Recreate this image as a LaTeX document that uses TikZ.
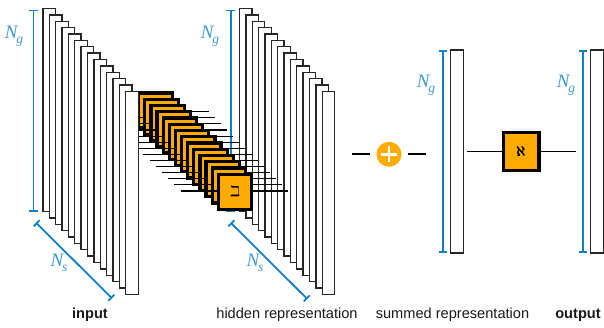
\documentclass[tikz,border=0pt]{standalone}
\usepackage{fontspec}
\usepackage{amsmath}
\usepackage{amssymb}
\usetikzlibrary{arrows.meta}
\setmainfont{Liberation Sans}
\newfontfamily\timesfam{Liberation Serif}
\definecolor{dimblue}{HTML}{0F80C4}
\definecolor{boxorange}{HTML}{FFAB00}
\newcommand{\dimlabel}[1]{{\timesfam\itshape\fontsize{19}{19}\selectfont N\kern-1pt\raisebox{-5.5pt}{\fontsize{13.5}{13.5}\selectfont #1}}}
\tikzset{
  x=1pt,y=-1pt,
  layerbar/.style={draw=black!85,fill=white,line width=1.35pt,minimum width=12.6pt,minimum height=203pt,inner sep=0pt,outer sep=0pt},
  gatebox/.style={draw=black,fill=boxorange,line width=3.2pt,inner sep=0pt,outer sep=0pt},
  wire/.style={draw=black,line width=1.1pt},
  dimline/.style={draw=dimblue,line width=1.8pt,{Bar[width=8.5pt,length=1.6pt]}-{Bar[width=8.5pt,length=1.6pt]}},
  dimtext/.style={text=dimblue!80,inner sep=0pt},
  caption/.style={inner sep=0pt,font=\fontsize{14.6}{14.6}\selectfont,text=black!90,anchor=base},
}
\begin{document}
\begin{tikzpicture}
\useasboundingbox (0,0) rectangle (604,327);
% hidden stack
\foreach \i in {0,...,13}{
  \node[layerbar] (h\i) at ({245.8+6.36*\i},{110.2+6.35*\i}) {};
}
% dimension marks, hidden stack
\coordinate (hgt) at (230.7,9.5);
\coordinate (hgb) at (230.7,212);
\draw[dimline] (hgt) -- (hgb);
\node[dimtext] (hng) at (210,36) {\dimlabel{g}};
\coordinate (hst) at (230.7,222.7);
\coordinate (hsb) at (307.3,299);
\draw[dimline] (hst) -- (hsb);
\node[dimtext] (hns) at (255,263) {\dimlabel{s}};
% gate boxes with their wires
\foreach \i in {0,...,13}{
  \coordinate (wl\i) at ({100+6.2*\i},{111.7+6.1*\i});
  \coordinate (wr\i) at ({209+6.1*\i},{111.7+6.1*\i});
  \draw[wire] (wl\i) -- (wr\i);
  \node[gatebox,minimum width=33.4pt,minimum height=35pt] (g\i) at ({155.4+6.12*\i},{110.5+6.25*\i}) {};
}
\node (betlabel) at (g13) {\fontsize{14}{14}\selectfont$\beth$};
% input stack
\foreach \i in {0,...,13}{
  \node[layerbar] (a\i) at ({49.2+6.37*\i},{110.2+6.35*\i}) {};
}
\coordinate (igt) at (33.5,9.5);
\coordinate (igb) at (33.5,212);
\draw[dimline] (igt) -- (igb);
\node[dimtext] (ing) at (14,36) {\dimlabel{g}};
\coordinate (ist) at (36,222.7);
\coordinate (isb) at (112,298.3);
\draw[dimline] (ist) -- (isb);
\node[dimtext] (ins) at (59,263) {\dimlabel{s}};
% sum
\node[circle,fill=boxorange,minimum size=25pt,inner sep=0pt,outer sep=0pt] (plus) at (389,154.3) {};
\draw[white,line width=2.8pt] ([xshift=-8pt]plus.center) -- ([xshift=8pt]plus.center);
\draw[white,line width=2.8pt] ([yshift=-8pt]plus.center) -- ([yshift=8pt]plus.center);
\coordinate (pa) at (352,154);
\coordinate (pb) at (370,154);
\coordinate (pc) at (408,154);
\coordinate (pd) at (426,154);
\draw[wire] (pa) -- (pb);
\draw[wire] (pc) -- (pd);
% summed representation
\node[layerbar] (s) at (457,151.4) {};
\coordinate (sgt) at (443,50);
\coordinate (sgb) at (443,253);
\draw[dimline] (sgt) -- (sgb);
\node[dimtext] (sng) at (426,85) {\dimlabel{g}};
% readout
\node[layerbar] (o) at (597,151.4) {};
\coordinate (ogt) at (583,50);
\coordinate (ogb) at (583,253);
\draw[dimline] (ogt) -- (ogb);
\node[dimtext] (ong) at (566,85) {\dimlabel{g}};
\coordinate (ra) at (467,151.7);
\coordinate (rb) at (575.7,151.7);
\draw[wire] (ra) -- (rb);
\node[gatebox,minimum width=35.5pt,minimum height=38pt] (rbox) at (521.2,151.5) {\fontsize{14}{14}\selectfont$\pmb{\aleph}$};
% captions
\node[caption] (c1) at (90,318) {\textbf{input}};
\node[caption] (c2) at (287,318) {hidden representation};
\node[caption] (c3) at (452.5,318) {summed representation};
\node[caption] (c4) at (578,318) {\textbf{output}};
\end{tikzpicture}
\end{document}
